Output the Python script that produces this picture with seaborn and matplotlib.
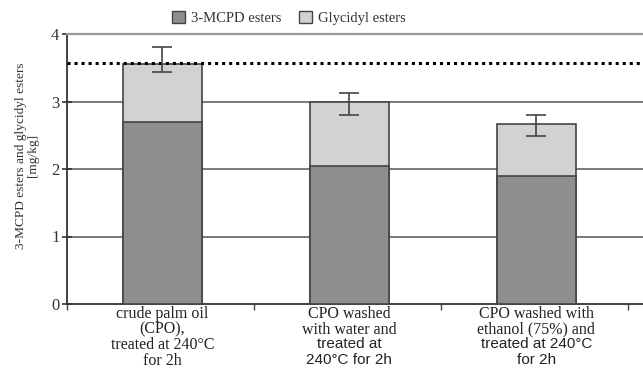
import matplotlib
matplotlib.use("Agg")
import matplotlib.pyplot as plt
import matplotlib.patches as mpatches
import seaborn as sns
import pandas as pd
import numpy as np

categories = ["crude palm oil (CPO), treated at 240°C for 2h",
              "CPO washed with water and treated at 240°C for 2h",
              "CPO washed with ethanol (75%) and treated at 240°C for 2h"]
mcpd = [2.70, 2.04, 1.90]
glycidyl = [0.86, 0.96, 0.77]
err_low = [0.13, 0.20, 0.18]
err_high = [0.25, 0.13, 0.13]
reference_level = 3.57
label_lines = [
    [("crude palm oil", "serif"), ("(CPO),", "serif"), ("treated at 240°C", "serif"), ("for 2h", "serif")],
    [("CPO washed", "serif"), ("with water and", "serif"), ("treated at", "sans"), ("240°C for 2h", "sans")],
    [("CPO washed with", "serif"), ("ethanol (75%) and", "serif"), ("treated at 240°C", "sans"), ("for 2h", "sans")],
]
yticks = [0, 1, 2, 3, 4]

total = [m + g for m, g in zip(mcpd, glycidyl)]
df = pd.DataFrame({"cat": categories, "mcpd": mcpd, "total": total})

sns.set_theme(style="white")
plt.rcParams["font.family"] = ["Liberation Serif", "DejaVu Serif"]

fig = plt.figure(figsize=(6.43, 3.71), dpi=100)
ax = fig.add_axes([67/643, 67/371, 1 - 67/643, 270/371])

dark = "#8e8e8e"
light = "#d2d2d2"
edge = "#444444"

for y in [1, 2, 3]:
    ax.axhline(y, color="#555555", lw=1.1, zorder=0)

sns.barplot(data=df, x="cat", y="total", color=light, width=0.42,
            edgecolor=edge, linewidth=1.2, saturation=1, ax=ax, zorder=2)
sns.barplot(data=df, x="cat", y="mcpd", color=dark, width=0.42,
            edgecolor=edge, linewidth=1.2, saturation=1, ax=ax, zorder=3)

ax.axhline(reference_level, color="black", lw=2.2, ls=(0, (1, 1.3)), zorder=4)

ax.errorbar(np.arange(len(categories)), total, yerr=[err_low, err_high], fmt="none",
            ecolor="#444444", elinewidth=1.2, capsize=7, capthick=1.2, zorder=5)

ax.set_xlim(-0.51, 2.57)
ax.set_ylim(0, 4)
ax.set_yticks(yticks)
ax.set_yticklabels([str(t) for t in yticks], fontsize=12)
ax.set_xticks([-0.51, 0.49, 1.49, 2.49])
ax.set_xticklabels([])
ax.set_xlabel("")
ax.set_ylabel("3-MCPD esters and glycidyl esters\n[mg/kg]", fontsize=9.6, color="#333333",
              linespacing=1.05)
ax.yaxis.set_label_coords(-0.048, 0.55)

ax.tick_params(axis="y", direction="inout", length=7, width=1.2, colors="#333333", pad=2, left=True)
ax.tick_params(axis="x", direction="out", length=4, width=1.0, colors="#444444", bottom=True)

for s in ["left", "bottom"]:
    ax.spines[s].set_color("#333333")
    ax.spines[s].set_linewidth(1.3)
ax.spines["right"].set_visible(False)
ax.spines["top"].set_color("#9a9a9a")
ax.spines["top"].set_linewidth(1.6)

for i, lines in enumerate(label_lines):
    for j, (txt, fam) in enumerate(lines):
        family = ["Liberation Serif"] if fam == "serif" else ["Liberation Sans"]
        size = 11.5 if fam == "serif" else 11.0
        ax.text(i, -0.03 - j * 0.232, txt, transform=ax.transData, ha="center", va="top",
                fontsize=size, family=family, color="#222222", clip_on=False)

handles = [mpatches.Patch(facecolor=dark, edgecolor=edge, lw=1.0, label="3-MCPD esters"),
           mpatches.Patch(facecolor=light, edgecolor=edge, lw=1.0, label="Glycidyl esters")]
fig.legend(handles=handles, loc="center", bbox_to_anchor=(289/643, 1 - 18/371), ncol=2,
           frameon=False, fontsize=10.5, handlelength=0.9, handleheight=0.9, columnspacing=1.2,
           handletextpad=0.4, labelcolor="#333333")

fig.savefig("out.png", dpi=100)
